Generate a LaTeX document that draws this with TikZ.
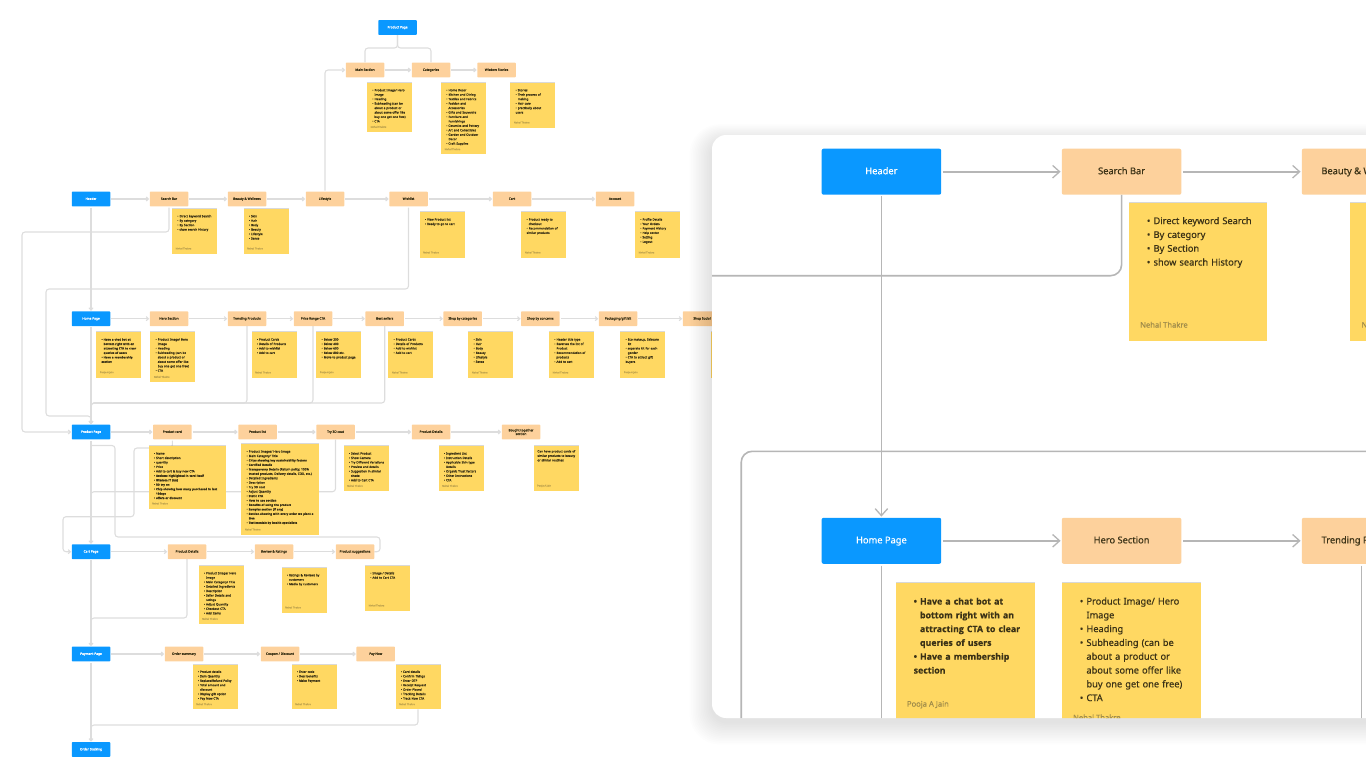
\documentclass[tikz,border=0pt]{standalone}
\usepackage{fontspec}
\setmainfont{Noto Sans}[FakeBold=.5]
\newfontfamily\heavyf{Open Sans}[Scale=.95,FakeBold=.6]
\newcommand{\heavy}{\heavyf\bfseries}
\usetikzlibrary{arrows.meta,shadows}

\definecolor{blubox}{HTML}{0A98FF}
\definecolor{peach}{HTML}{FDD19C}
\definecolor{stick}{HTML}{FFD862}
\definecolor{wirec}{HTML}{DDDDDD}
\definecolor{cwirec}{HTML}{B6B6B6}
\definecolor{inkc}{HTML}{3B3216}
\definecolor{byc}{HTML}{A08C4A}
\definecolor{tinybyc}{HTML}{C2A64F}

\pgfdeclarelayer{background}
\pgfsetlayers{background,main}

\newcommand{\itm}{\par\noindent\hangindent=.72em\hangafter=1\makebox[.72em][l]{\textbullet}}
\newcommand{\hv}[1]{{\heavy #1}}

% sticky note: size, name, x, y, width, height, items, author
\newcommand{\sticky}[8][tinytxt]{
  \node[note,minimum width=#5,minimum height=#6] (#2) at (#3,#4) {};
  \node[#1,text width=#5*.92] (#2txt) at (#2.north west) {#7};
  \node[#1by] (#2by) at (#2.south west) {#8};
}

\tikzset{
  blubase/.style={fill=blubox,rounded corners=.6,text=white,inner sep=0,minimum width=38.5,minimum height=14.6,align=center,font=\fontsize{3.2}{3.6}\selectfont},
  blu/.style={blubase,text height=2.4,text depth=.7},
  org/.style={blu,fill=peach,rounded corners=.6,text=inkc},
  orgtwo/.style={blubase,fill=peach,text=inkc},
  bblu/.style={fill=blubox,rounded corners=2,text=white,inner sep=0,minimum width=119.6,minimum height=46,text height=7,text depth=2,font=\fontsize{9.3}{11}\selectfont},
  borg/.style={bblu,fill=peach,text=inkc},
  note/.style={fill=stick,inner sep=0,anchor=north west,drop shadow={shadow xshift=0,shadow yshift=-.8,opacity=.3}},
  tinytxt/.style={inner sep=0,anchor=north west,xshift=5.4,yshift=-3.9,text=inkc,font=\fontsize{3}{4.45}\selectfont,execute at begin node=\raggedright},
  tinytxtby/.style={inner sep=0,anchor=west,xshift=3.7,yshift=5.2,text=tinybyc,font=\fontsize{2.5}{3}\selectfont},
  bigtxt/.style={inner sep=0,anchor=north west,xshift=18.1,yshift=-7.8,text=inkc,font=\fontsize{9.25}{13.8}\selectfont,execute at begin node=\raggedright},
  bigtxtby/.style={inner sep=0,anchor=west,xshift=11.4,yshift=16,text=byc,font=\fontsize{7.6}{9}\selectfont},
  wire/.style={draw=wirec,line width=1.1,rounded corners=3},
  flow/.style={wire,-{Straight Barb[length=2.3,width=4.1]},shorten >=.3,shorten <=1},
  cwire/.style={draw=cwirec,line width=1.6,rounded corners=11},
  cflow/.style={cwire,-{Straight Barb[length=7,width=12.5,line width=1.3]},shorten >=1,shorten <=1.5},
}

\begin{document}
\begin{tikzpicture}[x=1pt,y=-1pt]

  \useasboundingbox (0,0) rectangle (1366,768);
  \clip (0,0) rectangle (1366,768);

  % blue pages
  \node[blu] (topp) at (397.5,27.5) {Product Page};
  \foreach \nm/\cy/\lbl in {hdr/199/Header,home/318.7/Home Page,prodp/432/Product Page,cartp/551.7/Cart Page,payp/654/Payment Page,track/749.5/Order tracking}
    \node[blu] (\nm) at (91,\cy) {\lbl};

  % peach rows
  \foreach \nm/\cx/\lbl in {msec/365/Main Section,cats/431/Categories,wisd/496.5/Wisdom Stories}
    \node[org] (\nm) at (\cx,70) {\lbl};
  \foreach \nm/\cx/\lbl in {srch/169/Search Bar,beau/247/Beauty \& Wellness,life/325/Lifestyle,wish/408.5/Wishlist,cart/512/Cart,acct/615/Account}
    \node[org] (\nm) at (\cx,199) {\lbl};
  \foreach \nm/\cx/\lbl in {hero/169/Hero Section,trend/247/Trending Products,price/313/Price Range CTA,best/384.7/Best sellers,shcat/462.7/Shop by categories,shcon/540.3/Shop by concerns,pack/618/{Packaging/gift kit},shsoc/702/Shop Social}
    \node[org] (\nm) at (\cx,318.7) {\lbl};
  \foreach \nm/\cx/\lbl in {pcard/172.3/Product card,plist/257.5/Product list,tryc/335.5/Try 3D coat,pdet/431/Product Details}
    \node[org] (\nm) at (\cx,432) {\lbl};
  \node[orgtwo] (bought) at (521,432) {Bought together\\section};
  \foreach \nm/\cx/\lbl in {cdet/187/Product Details,revw/274/Review \& Ratings,sugg/355/Product suggestions}
    \node[org] (\nm) at (\cx,551.7) {\lbl};
  \foreach \nm/\cx/\lbl in {osum/184/Order summary,coup/280/{Coupon / Discount},pnow/375.7/Pay Now}
    \node[org] (\nm) at (\cx,654) {\lbl};

  % sticky notes, top
  \sticky{nmsec}{366.7}{82.7}{45}{49}{\itm Product Image/ Hero\newline Image\itm Heading\itm Subheading (can be\newline about a product or\newline about some offer like\newline buy one get one free)\itm CTA}{Nehal Thakre}
  \sticky{ncats}{440.7}{82.7}{45}{71.3}{\itm Home Decor\itm Kitchen and Dining\itm Textiles and Fabrics\itm Fashion and\newline Accessories\itm Gifts and Souvenirs\itm Furniture and\newline Furnishings\itm Ceramics and Pottery\itm Art and Collectibles\itm Garden and Outdoor\newline Decor\itm Craft Supplies}{Nehal Thakre}
  \sticky{nwisd}{510}{82.7}{45}{44.6}{\itm Stories\itm Their process of\newline making\itm Hair care\itm practically about\newline users}{Nehal Thakre}

  % sticky notes, header row
  \sticky{nsrch}{171.7}{208.7}{45}{44.6}{\itm Direct keyword Search\itm By category\itm By Section\itm show search History}{Nehal Thakre}
  \sticky{nbeau}{243.3}{208.7}{45}{44.6}{\itm Skin\itm Hair\itm Body\itm Beauty\itm Lifestyle\itm Sense}{Nehal Thakre}
  \sticky{nwish}{419.3}{212}{45}{45.3}{\itm View Product list\itm Ready to go to cart}{Nehal Thakre}
  \sticky{ncart}{521}{212}{45}{45.3}{\itm Product ready to\newline checkout\itm Recommendation of\newline similar products}{Nehal Thakre}
  \sticky{nacct}{634.7}{212}{45}{45.3}{\itm Profile Details\itm Your Orders\itm Payment History\itm Help center\itm Setting\itm Logout}{Nehal Thakre}

  % sticky notes, home row
  \sticky{nhome}{96}{332}{45}{45.3}{\heavy\itm Have a chat bot at\newline bottom right with an\newline attracting CTA to clear\newline queries of users\itm Have a membership\newline section}{Pooja A Jain}
  \sticky{nhero}{150}{332}{45}{49.7}{\itm Product Image/ Hero\newline Image\itm Heading\itm Subheading (can be\newline about a product or\newline about some offer like\newline buy one get one free)\itm CTA}{Nehal Thakre}
  \sticky{ntrend}{251.3}{332}{45}{45.3}{\itm Product Cards\itm Details of Products\itm Add to wishlist\itm Add to cart}{Nehal Thakre}
  \sticky{nprice}{316}{332}{45}{45.3}{\itm Below 200\itm Below 400\itm Below 600\itm Below 800 etc.\itm Move to product page}{Pooja A Jain}
  \sticky{nbest}{388}{332}{45}{45.3}{\itm Product Cards\itm Details of Products\itm Add to wishlist\itm Add to cart}{Nehal Thakre}
  \sticky{nshcat}{468}{332}{45}{45.3}{\itm Skin\itm Hair\itm Body\itm Beauty\itm Lifestyle\itm Sense}{Nehal Thakre}
  \sticky{nshcon}{548.7}{332}{45}{45.3}{\itm Header title type\itm Reverses the list of\newline Product\itm Recommendation of\newline products\itm Add to cart}{Nehal Thakre}
  \sticky{npack}{620}{332}{45}{45.3}{\itm Eco makeup, Skincare\newline kit\itm separate kit for each\newline gender\itm CTA to attract gift\newline buyers}{Pooja A Jain}
  \sticky{nshsoc}{710.7}{332}{45}{45.3}{}{}

  % sticky notes, product row
  \sticky{npcard}{148.3}{446}{77.7}{62.3}{\itm Name\itm Short description\itm quantity\itm Price\itm Add to cart \& buy now CTA\itm\hv{Reviews highlighted in card itself}\itm\hv{Wisdom IT (tm)}\itm\hv{3D try on}\itm\hv{Chip showing how many purchased in last}\newline\hv{10days}\itm\hv{offers or discount}}{Nehal Thakre}
  \sticky{nplist}{241}{444}{77.7}{90.3}{\itm Product Images/ Hero Image\itm Main Category/ Title\itm\hv{Chips showing key sustainability factors}\itm\hv{Certified Details}\itm\hv{Transparency Details} (Return policy, 100\%\newline trusted products, Delivery details, COD, etc.)\itm Detailed Ingredients\itm Description\itm Try 3D coat\itm Adjust Quantity\itm\hv{Static CTA}\itm\hv{How to use section}\itm\hv{Benefits of using the product}\itm\hv{Samples section (if any)}\itm\hv{Section showing with every order we plant a}\newline\hv{tree}\itm\hv{Testimonials by health specialists}}{Nehal Thakre}
  \sticky{ntry}{343.3}{446}{45}{44.7}{\itm Select Product\itm Show Camera\itm Try Different Variations\itm Preview and details\itm Suggestion in similar\newline shade\itm Add to Cart CTA}{Nehal Thakre}
  \sticky{npdet}{438.3}{446}{45}{44.7}{\itm Ingredient List\itm Instruction Details\itm Applicable Skin type\newline Details\itm Organic Trust factors\itm Other Instructions\itm CTA}{Nehal Thakre}
  \sticky{nbought}{533.3}{446}{45}{44.7}{\noindent\hspace*{-1.4pt}Can have product cards of\newline\hspace*{-1.4pt}similar products to beauty\newline\hspace*{-1.4pt}or similar routines}{Pooja A Jain}

  % sticky notes, cart row
  \sticky{ncdet}{198.3}{565.7}{45}{58}{\itm Product Image/ Hero\newline Image\itm Main Category/ Title\itm Detailed Ingredients\itm Description\itm Seller Details and\newline ratings\itm Adjust Quantity\itm Checkout CTA\itm Add Items}{Nehal Thakre}
  \sticky{nrevw}{281.3}{567.7}{45}{44.6}{\itm Ratings \& Reviews by\newline customers\itm Media by customers}{Nehal Thakre}
  \sticky{nsugg}{364.7}{565.7}{45}{44.6}{\itm Image / Details\itm Add to Cart CTA}{Nehal Thakre}

  % sticky notes, payment row
  \sticky{nosum}{192.3}{664.3}{45}{44.7}{\itm Product details\itm Item Quantity\itm Replace/Refund Policy\itm Total amount and\newline discount\itm Display gift option\itm Pay Now CTA}{Nehal Thakre}
  \sticky{ncoup}{291.3}{664.3}{45}{44.7}{\itm Enter code\itm Deal benefits\itm Make Payment}{Nehal Thakre}
  \sticky{npnow}{395.3}{664.3}{45}{44.7}{\itm Card details\itm Confirm Things\itm Enter OTP\itm Receipt Request\itm Order Placed\itm Tracking Details\itm Track Now CTA}{Nehal Thakre}

  % connectors go under the notes
  \begin{pgfonlayer}{background}
    \foreach \a/\b in {msec/cats,cats/wisd,hdr/srch,srch/beau,beau/life,life/wish,wish/cart,cart/acct,
      home/hero,hero/trend,trend/price,price/best,best/shcat,shcat/shcon,shcon/pack,pack/shsoc,
      prodp/pcard,pcard/plist,plist/tryc,tryc/pdet,pdet/bought,cartp/cdet,cdet/revw,revw/sugg,
      payp/osum,osum/coup,coup/pnow,hdr/home,home/prodp,prodp/cartp,cartp/payp,payp/track}
      \draw[flow] (\a) -- (\b);
    \draw[wire] (topp.south) |- (365,48) -- (msec.north);
    \draw[wire] (topp.south) |- (431,48) -- (cats.north);
    \draw[flow] (life.north) |- (msec.west);
    \draw[flow] (srch.south) |- (22,232) |- (prodp.west);
    \draw[flow] (wish.south) |- (46,289) |- (91,416) -- (prodp.north);
    \foreach \a in {trend,price,best}
      \draw[wire] (\a.south) |- (91,403) -- ++(0,5);
    \draw[flow] (pcard.south) |- (134,448) |- (63,516.7) |- (cartp.west);
    \draw[wire] (tryc.south) |- (91,491.7) -- ++(0,4);
    \draw[wire] (sugg.east) -| (380,537) -| (115,445.5) -- (91,445.5);
    \draw[wire] (cdet.south) |- (91,618) -- ++(0,4);
    \draw[wire] (npnow.south) |- (91,725) -- ++(0,4);
  \end{pgfonlayer}

  % soft shadow of the card
  \foreach \i in {1,...,14}
    \fill[black,opacity=.009,rounded corners=16+\i] (712-1.6*\i,135+6-1.2*\i) rectangle (1420,718+4+1.6*\i);

  % the card
  \fill[white,rounded corners=14] (712,135) rectangle (1420,718);
  \begin{scope}
    \clip[rounded corners=14] (712,135) rectangle (1420,718);

    \node[bblu] (chdr) at (881.4,171.7) {Header};
    \node[borg] (csrch) at (1121.6,171.7) {Search Bar};
    \node[borg] (cbeau) at (1361.6,171.7) {Beauty \& Wellness};
    \node[bblu] (chome) at (881.4,540.8) {Home Page};
    \node[borg] (chero) at (1121.6,540.8) {Hero Section};
    \node[borg] (ctrend) at (1361.6,540.8) {Trending Products};

    \foreach \a/\b in {chdr/csrch,csrch/cbeau,chome/chero,chero/ctrend}
      \draw[cflow,line width=2] (\a) -- (\b);
    \draw[cflow] (chdr) -- (chome);
    \draw[cwire] (csrch.south) |- (700,275.7);
    \draw[cwire] (741.2,730) |- (1380,451.3);
    \draw[cwire,shorten <=1.5] (chome.south) -- ++(0,170);
    \draw[cwire,shorten <=1.5] (ctrend.south) -- ++(0,170);

    \sticky[bigtxt]{cnsrch}{1128.6}{202.3}{138.4}{138}{\itm Direct keyword Search\itm By category\itm By Section\itm show search History}{Nehal Thakre}
    \sticky[bigtxt]{cnbeau}{1350}{202.3}{138.4}{138}{}{Nehal Thakre}
    \sticky[bigtxt]{cnhome}{895.4}{582.7}{138.9}{137.6}{\heavy\itm Have a chat bot at\newline bottom right with an\newline attracting CTA to clear\newline queries of users\itm Have a membership\newline section}{Pooja A Jain}
    \sticky[bigtxt]{cnhero}{1061.5}{582.7}{138.9}{150.3}{\itm Product Image/ Hero\newline Image\itm Heading\itm Subheading (can be\newline about a product or\newline about some offer like\newline buy one get one free)\itm CTA}{Nehal Thakre}
  \end{scope}
\end{tikzpicture}
\end{document}
